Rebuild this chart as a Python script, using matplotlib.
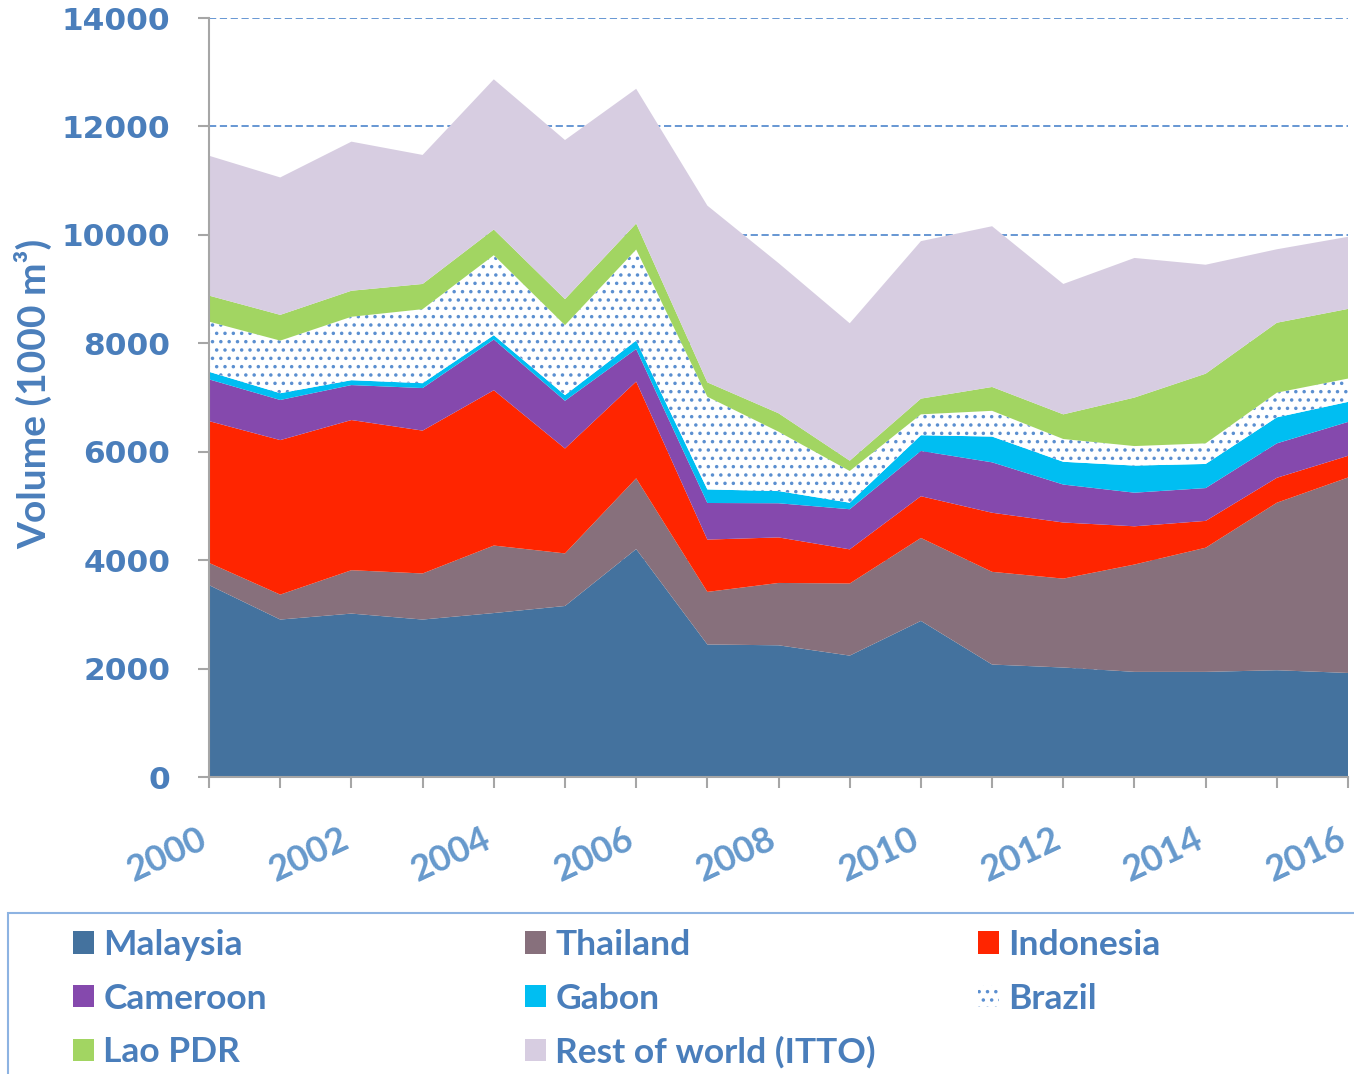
import numpy as np
import matplotlib.pyplot as plt
from matplotlib.patches import Patch, Rectangle

years = list(range(2000, 2017))

malaysia = [3540, 2905, 3015, 2905, 3025, 3155, 4205, 2445, 2430, 2240, 2880, 2075, 2020, 1940, 1940, 1970, 1920]
thailand = [410, 460, 800, 850, 1245, 970, 1305, 970, 1150, 1330, 1530, 1710, 1640, 1980, 2290, 3090, 3605]
indonesia = [2615, 2850, 2770, 2635, 2865, 1935, 1785, 965, 840, 630, 770, 1090, 1035, 705, 495, 460, 400]
cameroon = [770, 740, 645, 785, 935, 880, 600, 675, 630, 740, 835, 930, 700, 620, 605, 635, 625]
gabon = [140, 125, 90, 90, 80, 105, 155, 250, 225, 120, 290, 475, 420, 500, 445, 480, 370]
brazil = [925, 970, 1170, 1365, 1475, 1290, 1680, 1710, 1095, 585, 385, 475, 420, 360, 380, 455, 430]
lao = [480, 475, 480, 465, 475, 480, 480, 265, 340, 190, 290, 440, 455, 895, 1285, 1290, 1285]
rest = [2580, 2535, 2750, 2380, 2770, 2935, 2485, 3260, 2770, 2535, 2905, 2965, 2405, 2575, 2010, 1355, 1330]

names = ['Malaysia', 'Thailand', 'Indonesia', 'Cameroon', 'Gabon', 'Brazil',
         'Lao PDR', 'Rest of world (ITTO)']
series = [malaysia, thailand, indonesia, cameroon, gabon, brazil, lao, rest]
colors = ['#44729E', '#87707C', '#FF2500', '#8549AD', '#00BEF2', '#FFFFFF',
          '#A2D562', '#D7CDE1']
hatches = [None, None, None, None, None, '..', None, None]

label_blue = '#4A7EBB'
tick_blue = '#6699CC'
dot_blue = '#5B8FD0'
axis_grey = '#A6A6A6'

plt.rcParams['hatch.linewidth'] = 1.3

fig = plt.figure(figsize=(13.54, 10.74), dpi=100)
ax = fig.add_axes([0.1544, 0.2765, 0.8412, 0.7067])

# stacked areas
base = np.zeros(len(years))
for vals, name, col, h in zip(series, names, colors, hatches):
    top = base + np.array(vals)
    if h:
        ax.fill_between(years, base, top, facecolor=col, edgecolor=dot_blue,
                        hatch=h, linewidth=0, label=name)
    else:
        ax.fill_between(years, base, top, facecolor=col, linewidth=0, label=name)
    base = top

ax.set_xlim(2000, 2016)
ax.set_ylim(0, 14000)
ax.set_axisbelow(True)
ax.yaxis.grid(True, color=dot_blue, linestyle=(0, (4, 2)), linewidth=1.3)

ax.set_yticks(range(0, 14001, 2000))
ax.set_xticks(years, labels=[str(y) if y % 2 == 0 else '' for y in years])

for s in ['top', 'right']:
    ax.spines[s].set_visible(False)
for s in ['left', 'bottom']:
    ax.spines[s].set_color(axis_grey)
    ax.spines[s].set_linewidth(1.5)

ax.tick_params(axis='y', length=8, width=1.5, color=axis_grey, pad=20,
               labelsize=22.5, labelcolor=label_blue)
ax.tick_params(axis='x', length=8, width=1.5, color=axis_grey, pad=42,
               labelsize=26, labelcolor=tick_blue)
for t in ax.get_yticklabels():
    t.set_fontweight('bold')
    t.set_family('DejaVu Sans')
for t in ax.get_xticklabels():
    t.set_fontweight('bold')
    t.set_family('Lato')
    t.set_rotation(25)
    t.set_ha('right')
    t.set_va('baseline')
    t.set_rotation_mode('anchor')

ax.set_ylabel('Volume (1000 m³)', fontsize=28, fontweight='bold',
              family='Lato', color=label_blue)
ax.yaxis.set_label_coords(-0.138, 0.505)

# legend in three columns inside a framed box
handles = []
for name, col, h in zip(names, colors, hatches):
    if h:
        handles.append(Patch(facecolor=col, edgecolor=dot_blue, hatch=h,
                             linewidth=0, label=name))
    else:
        handles.append(Patch(facecolor=col, linewidth=0, label=name))

col_x = [73, 525, 978]
for i, x in enumerate(col_x):
    fig.legend(handles=handles[i::3], loc='upper left',
               bbox_to_anchor=(x / 1354, 1 - 929 / 1074), frameon=False,
               prop={'family': 'Lato', 'weight': 'bold', 'size': 25.5},
               labelcolor=label_blue, handlelength=0.58, handleheight=0.58,
               handletextpad=0.28, labelspacing=0.61, borderpad=0,
               borderaxespad=0)

fig.patches.append(Rectangle((8 / 1354, -0.05), 1.2, 0.05 + 161 / 1074,
                             transform=fig.transFigure, fill=False,
                             edgecolor='#8DB3E2', linewidth=1.5))

fig.savefig('out.png', dpi=100)
